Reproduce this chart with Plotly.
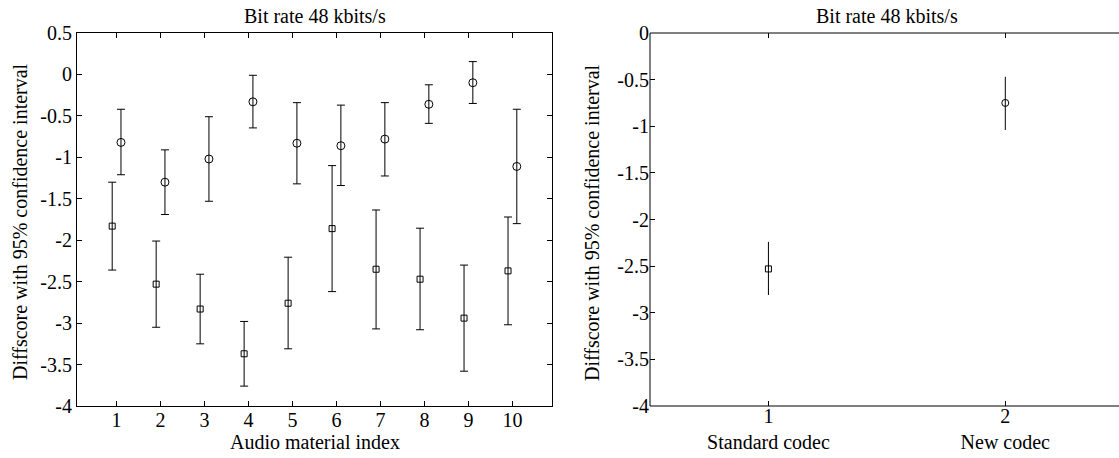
import plotly.graph_objects as go

# Per-item diffscores (mean and 95% CI bounds) at 48 kbit/s
items = [1, 2, 3, 4, 5, 6, 7, 8, 9, 10]

new_mean = [-0.82, -1.30, -1.02, -0.33, -0.83, -0.86, -0.78, -0.36, -0.10, -1.11]
new_upper = [-0.42, -0.91, -0.51, -0.01, -0.34, -0.37, -0.34, -0.125, 0.155, -0.42]
new_lower = [-1.21, -1.69, -1.53, -0.645, -1.32, -1.34, -1.225, -0.59, -0.35, -1.80]

std_mean = [-1.83, -2.53, -2.83, -3.37, -2.76, -1.86, -2.35, -2.47, -2.94, -2.37]
std_upper = [-1.30, -2.01, -2.41, -2.98, -2.205, -1.10, -1.635, -1.855, -2.30, -1.72]
std_lower = [-2.36, -3.05, -3.25, -3.76, -3.31, -2.62, -3.07, -3.08, -3.58, -3.02]

# Pooled results per codec
codec_pos = [1, 2]
codec_names = ["Standard codec", "New codec"]
pooled_mean = [-2.53, -0.75]
pooled_upper = [-2.24, -0.47]
pooled_lower = [-2.81, -1.04]

title_text = "Bit rate 48 kbits/s"
ylabel_text = "Diffscore with 95% confidence interval"
xlabel_text = "Audio material index"

W, H = 1119, 458
FONT = "Liberation Serif"
FS = 20

# axes boxes in pixels
L1, R1 = 77, 552
L2, R2 = 650, 1119
TOP, BOT = 33, 406


def fx(px):
    return px / W


def fy(py):
    return 1 - py / H


def plus(m, u):
    return [a - b for a, b in zip(u, m)]


def minus(m, lo):
    return [b - a for a, b in zip(lo, m)]


fig = go.Figure()

# Standard codec per item (squares), shifted left of the tick
fig.add_trace(go.Scatter(
    x=[i - 0.1 for i in items], y=std_mean, mode="markers",
    marker=dict(symbol="square-open", size=6, color="black", line=dict(width=1)),
    error_y=dict(type="data", symmetric=False,
                 array=plus(std_mean, std_upper),
                 arrayminus=minus(std_mean, std_lower),
                 color="black", thickness=1, width=4),
    xaxis="x", yaxis="y", showlegend=False))

# New codec per item (circles), shifted right of the tick
fig.add_trace(go.Scatter(
    x=[i + 0.1 for i in items], y=new_mean, mode="markers",
    marker=dict(symbol="circle-open", size=8, color="black", line=dict(width=1)),
    error_y=dict(type="data", symmetric=False,
                 array=plus(new_mean, new_upper),
                 arrayminus=minus(new_mean, new_lower),
                 color="black", thickness=1, width=4),
    xaxis="x", yaxis="y", showlegend=False))

# Pooled: standard codec
fig.add_trace(go.Scatter(
    x=[codec_pos[0]], y=[pooled_mean[0]], mode="markers",
    marker=dict(symbol="square-open", size=6, color="black", line=dict(width=1)),
    error_y=dict(type="data", symmetric=False,
                 array=[pooled_upper[0] - pooled_mean[0]],
                 arrayminus=[pooled_mean[0] - pooled_lower[0]],
                 color="black", thickness=1, width=0),
    xaxis="x2", yaxis="y2", showlegend=False))

# Pooled: new codec
fig.add_trace(go.Scatter(
    x=[codec_pos[1]], y=[pooled_mean[1]], mode="markers",
    marker=dict(symbol="circle-open", size=7, color="black", line=dict(width=1)),
    error_y=dict(type="data", symmetric=False,
                 array=[pooled_upper[1] - pooled_mean[1]],
                 arrayminus=[pooled_mean[1] - pooled_lower[1]],
                 color="black", thickness=1, width=0),
    xaxis="x2", yaxis="y2", showlegend=False))

tickfont = dict(family=FONT, size=FS, color="black")
ax_common = dict(linecolor="black", linewidth=1, ticks="inside",
                 ticklen=5, tickcolor="black", tickwidth=1, showgrid=False,
                 zeroline=False, tickfont=tickfont)

y1_vals = [0.5 - 0.5 * k for k in range(10)]
y2_vals = [0 - 0.5 * k for k in range(9)]


def fmt(v):
    return "%g" % v


fig.update_layout(
    width=W, height=H,
    margin=dict(l=0, r=0, t=0, b=0, autoexpand=False),
    paper_bgcolor="white", plot_bgcolor="white",
    font=dict(family=FONT, color="black"),
    xaxis=dict(domain=[fx(L1), fx(R1)], range=[0.1, 10.9], anchor="y",
               tickvals=items, ticktext=[str(i) for i in items],
               showline=True, mirror="ticks", ticklabelstandoff=-4, **ax_common),
    yaxis=dict(domain=[fy(BOT), fy(TOP)], range=[-4, 0.5], anchor="x",
               tickvals=y1_vals, ticktext=[fmt(v) for v in y1_vals],
               showline=True, mirror="ticks", **ax_common),
    # the right panel runs off the page edge: its spines are drawn as shapes below
    xaxis2=dict(domain=[fx(L2), fx(R2)], range=[0.5, 2.48], anchor="y2",
                tickvals=codec_pos,
                ticktext=[f"{p}<br>{n}" for p, n in zip(codec_pos, codec_names)],
                showline=False, mirror="ticks", ticklabelstandoff=-4, **ax_common),
    yaxis2=dict(domain=[fy(BOT), fy(TOP)], range=[-4, 0], anchor="x2",
                tickvals=y2_vals, ticktext=[fmt(v) for v in y2_vals],
                showline=False, mirror=False, **ax_common),
)

spine = dict(color="black", width=1)
# left, bottom and top spines of the right panel
fig.add_shape(type="line", xref="paper", yref="paper",
              x0=fx(L2), x1=fx(L2), y0=fy(BOT), y1=fy(TOP), line=spine)
fig.add_shape(type="line", xref="paper", yref="paper",
              x0=fx(L2), x1=1, y0=fy(BOT), y1=fy(BOT), line=spine)
fig.add_shape(type="line", xref="paper", yref="paper",
              x0=fx(L2), x1=1, y0=fy(TOP), y1=fy(TOP), line=spine)

afont = dict(family=FONT, size=FS, color="black")
annotations = [
    dict(text=title_text, x=fx((L1 + R1) / 2), y=fy(16), xref="paper", yref="paper",
         showarrow=False, font=afont, xanchor="center", yanchor="middle"),
    dict(text=title_text, x=fx(887), y=fy(16), xref="paper", yref="paper",
         showarrow=False, font=afont, xanchor="center", yanchor="middle"),
    dict(text=xlabel_text, x=fx((L1 + R1) / 2), y=fy(442), xref="paper", yref="paper",
         showarrow=False, font=afont, xanchor="center", yanchor="middle"),
    dict(text=ylabel_text, x=fx(20), y=fy(222), xref="paper", yref="paper",
         showarrow=False, font=afont, textangle=-90, xanchor="center", yanchor="middle"),
    dict(text=ylabel_text, x=fx(592), y=fy(222), xref="paper", yref="paper",
         showarrow=False, font=afont, textangle=-90, xanchor="center", yanchor="middle"),
]
fig.update_layout(annotations=annotations)

fig.write_html("out.html")
